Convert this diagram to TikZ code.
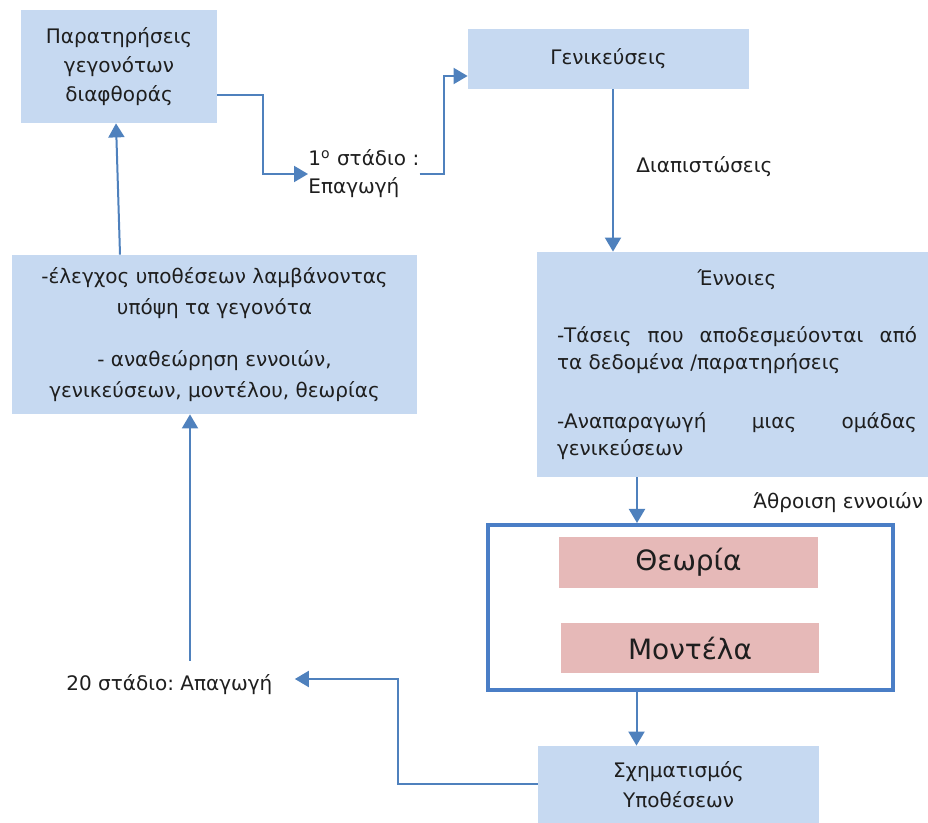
\documentclass[tikz,border=0pt]{standalone}
\usepackage{fontspec}
\setmainfont{DejaVu Sans}
\usepackage{xcolor}
\usepackage{tikz}
\usetikzlibrary{calc,arrows.meta,positioning}
\definecolor{bluex}{HTML}{4F81BD}
\definecolor{framex}{HTML}{4A7EC6}
\definecolor{boxbg}{HTML}{C6D9F1}
\definecolor{pinkx}{HTML}{E6B9B8}
\definecolor{inkx}{HTML}{1E1E1E}
\setlength{\parindent}{0pt}
\hyphenpenalty=10000
\frenchspacing
\tikzset{
  ar/.style={-{Triangle[length=7pt,width=8pt]},line width=1pt,bluex},
  box/.style={fill=boxbg,text=inkx,align=center,inner sep=0pt,font=\fontsize{10}{14.5}\selectfont},
  pbox/.style={fill=pinkx,text=inkx,inner sep=0pt,minimum width=129.5pt,minimum height=25.5pt,font=\fontsize{14}{16}\selectfont},
  lbl/.style={text=inkx,inner sep=0pt,anchor=west,align=left,font=\fontsize{10}{14}\selectfont}
}
\begin{document}
\begin{tikzpicture}[x=0.5pt,y=-0.5pt]
\useasboundingbox (0,0) rectangle (928,823);
\node[box,minimum width=98pt,minimum height=56.5pt] (obs) at (119,66.5) {Παρατηρήσεις\\γεγονότων\\διαφθοράς};
\node[box,minimum width=140.5pt,minimum height=30pt] (gen) at (608.5,59) {Γενικεύσεις};
\node[box,align=justify,text width=180pt,inner xsep=10pt,minimum height=112.5pt,font=\fontsize{10}{13.5}\selectfont] (conc) at (737,364.5)
  {{\centering Έννοιες\par}\vspace{15pt}
   -Τάσεις που αποδεσμεύονται από\linebreak τα δεδομένα /παρατηρήσεις\par\vspace{16pt}
   -Αναπαραγωγή μιας ομάδας\linebreak γενικεύσεων};
\node[draw=framex,line width=2pt,minimum width=202.5pt,minimum height=82.5pt] (frame) at (690.5,607.5) {};
\node[pbox] (theory) at (688.5,562.5) {Θεωρία};
\node[pbox,minimum width=129pt,minimum height=25pt] (models) at (690,648.5) {Μοντέλα};
\node[box,minimum width=140.5pt,minimum height=38.5pt,font=\fontsize{10}{15}\selectfont] (hyp) at (678.5,784.5) {Σχηματισμός\\Υποθέσεων};
\node[box,minimum width=202.5pt,minimum height=79.5pt,font=\fontsize{10}{15.5}\selectfont] (check) at (214.5,334.5)
  {-έλεγχος υποθέσεων λαμβάνοντας\\υπόψη τα γεγονότα\\[10.5pt]- αναθεώρηση εννοιών,\\γενικεύσεων, μοντέλου, θεωρίας};
\node[lbl] (stage1) at (308,174) {1\textsuperscript{ο} στάδιο :\\Επαγωγή};
\node[lbl] (findings) at (636,167) {Διαπιστώσεις};
\node[lbl] (sum) at (753,503) {Άθροιση εννοιών};
\node[lbl] (stage2) at (66,685) {20 στάδιο: Απαγωγή};
\draw[ar] ([yshift=-14.25pt]obs.east) -- ++(23pt,0) |- (stage1.west);
\draw[ar] (stage1.east) -- ++(12pt,0) |- ([yshift=-8.5pt]gen.west);
\draw[ar] ([xshift=2.25pt]gen.south) -- ([xshift=2.25pt]gen.south |- conc.north);
\draw[ar] ([xshift=-26.75pt]frame.north |- conc.south) -- ([xshift=-26.75pt]frame.north);
\draw[ar] ([xshift=-27pt]frame.south) -- ([xshift=-27pt]frame.south |- hyp.north);
\draw[ar] (hyp.west) -- ++(-70pt,0) |- ([xshift=11pt,yshift=3pt]stage2.east);
\draw[ar] ([xshift=-12.25pt,yshift=7pt]check.south |- stage2.north) -- ([xshift=-12.25pt]check.south);
\draw[ar] ([xshift=-47.25pt]check.north) -- ([xshift=-1.5pt]obs.south);
\end{tikzpicture}
\end{document}
